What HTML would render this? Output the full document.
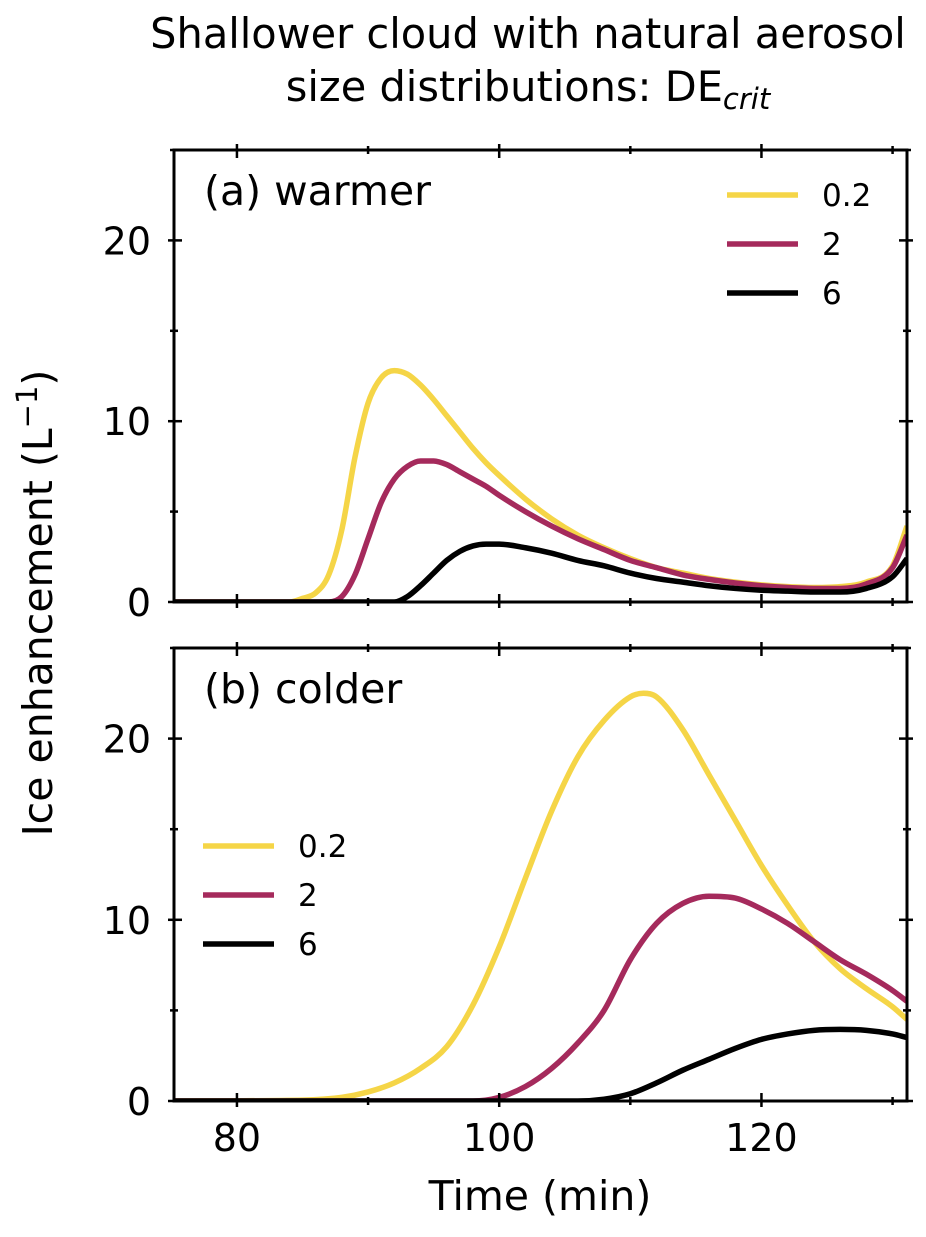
<!DOCTYPE html>
<html><head><meta charset="utf-8"><style>
body{margin:0;background:#fff}
svg text{font-family:"DejaVu Sans","Liberation Sans",sans-serif;fill:#000}
</style></head><body>
<svg id="chart" width="926" height="1232" viewBox="0 0 926 1232" xmlns="http://www.w3.org/2000/svg">
<text x="528" y="48" font-size="41.5" text-anchor="middle">Shallower cloud with natural aerosol</text>
<text x="528" y="101" font-size="41.5" text-anchor="middle">size distributions: DE<tspan font-style="italic" font-size="29" dy="8">crit</tspan></text>
<text transform="translate(52,603) rotate(-90)" font-size="41" text-anchor="middle">Ice enhancement (L<tspan font-size="29" dy="-15">−1</tspan><tspan dy="15">)</tspan></text>
<text x="540" y="1210" font-size="41" text-anchor="middle">Time (min)</text>
<g id="plots"></g>
</svg>
<script>
const series = ['0.2','2','6'];
const colors = ['#f5d547','#a52a5c','#000000'];
// Panel (a) warmer
const aYellowT = [75,84,85,86,87,88,89,90,91,92,93,94,95,96,97,98,99,100,102,104,106,108,110,112,114,116,118,120,122,124,126,128,130,131.1];
const aYellowV = [0,0,0.2,0.5,1.5,4,8,11,12.4,12.8,12.6,12,11.2,10.3,9.4,8.5,7.7,7.0,5.7,4.6,3.7,3.0,2.4,1.9,1.6,1.3,1.1,0.95,0.85,0.8,0.85,1.1,2.0,4.2];
const aMagT = [75,87,88,89,90,91,92,93,94,95,96,97,98,99,100,102,104,106,108,110,112,114,116,118,120,122,124,126,128,130,131.1];
const aMagV = [0,0,0.3,1.5,3.5,5.5,6.8,7.5,7.8,7.8,7.6,7.2,6.8,6.4,5.9,5.0,4.2,3.5,2.9,2.3,1.9,1.5,1.25,1.05,0.9,0.8,0.75,0.75,1.0,1.9,3.7];
const aBlkT = [75,92,93,94,95,96,97,98,99,100,102,104,106,108,110,112,114,116,118,120,122,124,126,128,130,131.1];
const aBlkV = [0,0,0.3,0.9,1.6,2.3,2.8,3.1,3.2,3.2,3.0,2.7,2.3,2.0,1.6,1.3,1.1,0.9,0.75,0.65,0.6,0.55,0.55,0.75,1.4,2.4];
// Panel (b) colder
const bYellowT = [75,85,88,90,92,94,96,98,100,102,104,106,108,110,111,112,114,116,118,120,122,124,126,128,130,131.1];
const bYellowV = [0,0.05,0.2,0.5,1.0,1.8,3.0,5.3,8.5,12.3,16,19,21,22.3,22.5,22.3,20.5,18,15.5,13,10.8,8.8,7.3,6.2,5.2,4.5];
const bMagT = [75,98,100,102,104,106,108,110,112,114,116,118,120,122,124,126,128,130,131.1];
const bMagV = [0,0,0.2,0.8,1.8,3.2,5,7.8,9.8,10.9,11.3,11.2,10.6,9.8,8.8,7.8,7.0,6.1,5.5];
const bBlkT = [75,106,108,110,112,114,116,118,120,122,124,126,128,130,131.1];
const bBlkV = [0,0,0.1,0.4,1.0,1.7,2.3,2.9,3.4,3.7,3.9,3.95,3.9,3.7,3.5];
const xTicks = [80,100,120];
const xMinor = [90,110,130];
const yTicks = [0,10,20];
const yMinor = [5,15,25];

const NS='http://www.w3.org/2000/svg';
const root=document.getElementById('plots');
const X0=174,X1=907,XMIN=75.2,XMAX=131.1;
const sx=t=>X0+(t-XMIN)/(XMAX-XMIN)*(X1-X0);
function mk(tag,attrs,parent){const e=document.createElementNS(NS,tag);for(const k in attrs)e.setAttribute(k,attrs[k]);parent.appendChild(e);return e;}
// monotone cubic (Fritsch-Carlson)
function monotone(pts){
  const n=pts.length,d=[],m=[];
  for(let i=0;i<n-1;i++)d.push((pts[i+1][1]-pts[i][1])/(pts[i+1][0]-pts[i][0]));
  m[0]=d[0];m[n-1]=d[n-2];
  for(let i=1;i<n-1;i++){m[i]=(d[i-1]*d[i]<=0)?0:(d[i-1]+d[i])/2;}
  for(let i=0;i<n-1;i++){if(d[i]===0){m[i]=0;m[i+1]=0;continue;}const a=m[i]/d[i],b=m[i+1]/d[i],s=a*a+b*b;if(s>9){const t=3/Math.sqrt(s);m[i]=t*a*d[i];m[i+1]=t*b*d[i];}}
  let p='M'+pts[0][0]+','+pts[0][1];
  for(let i=0;i<n-1;i++){const h=(pts[i+1][0]-pts[i][0])/3;
    p+=' C'+(pts[i][0]+h)+','+(pts[i][1]+m[i]*h)+' '+(pts[i+1][0]-h)+','+(pts[i+1][1]-m[i+1]*h)+' '+pts[i+1][0]+','+pts[i+1][1];}
  return p;
}
function panel(key,top,bottom,label,data,legX,legY,showX){
  const g=mk('g',{},root);
  
  
  const sy=v=>bottom-v/25*(bottom-top);
  const clip=mk('clipPath',{id:'clip'+key},g);mk('rect',{x:X0,y:top,width:X1-X0,height:bottom-top},clip);
  data.forEach((s,i)=>{
    const pts=s[0].map((t,j)=>[sx(t),sy(s[1][j])]);
    const p=mk('path',{d:monotone(pts),fill:'none',stroke:colors[i],'stroke-width':5.5,'stroke-linejoin':'round','clip-path':'url(#clip'+key+')'},g);
    
    
  });
  const fr=mk('rect',{x:X0,y:top,width:X1-X0,height:bottom-top,fill:'none',stroke:'#000','stroke-width':3},g);
  
  
  const tk=(x1,y1,x2,y2)=>mk('line',{x1,y1,x2,y2,stroke:'#000','stroke-width':2.5},g);
  xTicks.forEach(t=>{const x=sx(t);tk(x,bottom-8,x,bottom+6);tk(x,top-6,x,top+8);
    if(showX){const tx=mk('text',{x:x,y:bottom+50,'font-size':38,'text-anchor':'middle'},g);tx.textContent=t;
      
      }});
  xMinor.forEach(t=>{const x=sx(t);tk(x,bottom-4,x,bottom+4);tk(x,top-4,x,top+4);});
  yTicks.forEach(v=>{const y=sy(v);tk(X0-6,y,X0+8,y);tk(X1-8,y,X1+6,y);
    const tx=mk('text',{x:X0-23,y:y+14,'font-size':38,'text-anchor':'end'},g);tx.textContent=v;
    
    });
  yMinor.forEach(v=>{const y=sy(v);tk(X0-4,y,X0+4,y);tk(X1-4,y,X1+4,y);});
  const lb=mk('text',{x:204,y:top+55,'font-size':41},g);lb.textContent=label;
  
  
  series.forEach((s,i)=>{const y=legY+i*49;
    const l=mk('line',{x1:legX,y1:y,x2:legX+71,y2:y,stroke:colors[i],'stroke-width':5.5},g);
    
    
    const t=mk('text',{x:legX+95,y:y+11,'font-size':31},g);t.textContent=s;
    
    });
}
panel('a',150,602,'(a) warmer',[[aYellowT,aYellowV],[aMagT,aMagV],[aBlkT,aBlkV]],727,195,false);
panel('b',648,1101,'(b) colder',[[bYellowT,bYellowV],[bMagT,bMagV],[bBlkT,bBlkV]],203,846,true);
</script>
</body></html>
